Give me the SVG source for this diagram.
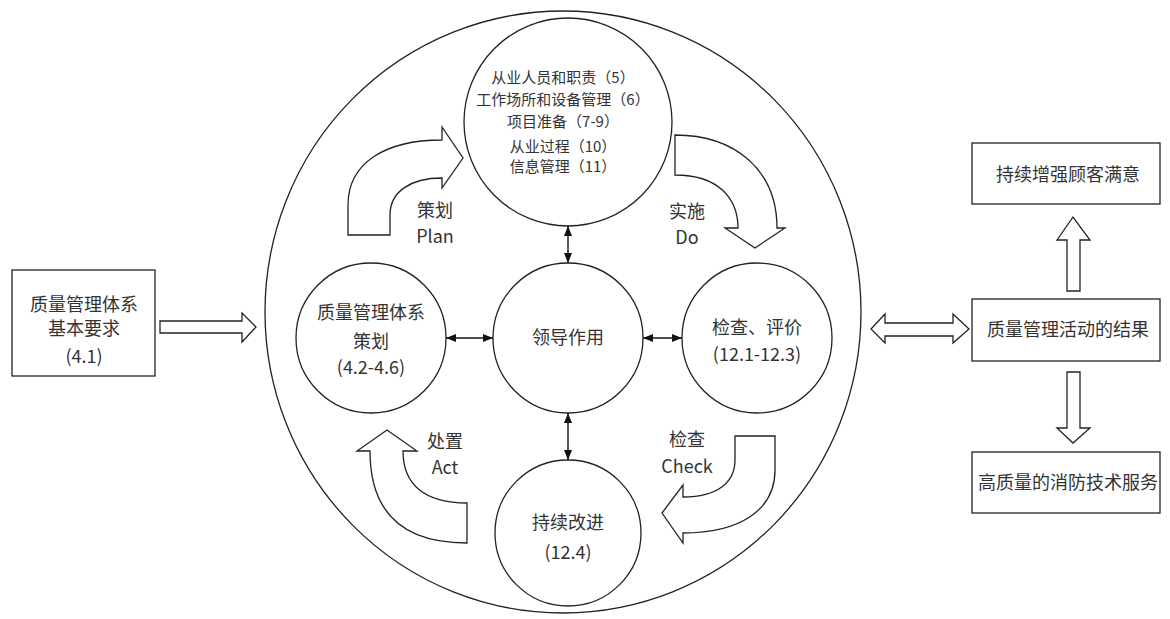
<svg xmlns="http://www.w3.org/2000/svg" width="1170" height="619" viewBox="0 0 1170 619">
<style>
.s{fill:#fff;stroke:#222;stroke-width:1.3}
.b{fill:none;stroke:#222;stroke-width:1.3}
.t{font-family:"Noto Sans CJK SC","Noto Sans",sans-serif;font-size:18px;fill:#333;text-anchor:middle}
.sm{font-size:15px}
.c{stroke:#111;stroke-width:1.4;fill:none}
</style>
<defs>
<marker id="ah" viewBox="0 0 10 8" markerWidth="10" markerHeight="8" refX="10" refY="4" orient="auto-start-reverse" markerUnits="userSpaceOnUse">
<path d="M0,0 L10,4 L0,8 Z" fill="#111"/>
</marker>
</defs>
<rect width="1170" height="619" fill="#fff"/>
<g id="outer"><ellipse class="b" cx="563" cy="312" rx="298" ry="301"/></g>
<g id="basic">
<rect class="s" x="12" y="270" width="143" height="106"/>
<text class="t" x="84" y="311">质量管理体系</text>
<text class="t" x="84" y="335">基本要求</text>
<text class="t" x="84" y="363">(4.1)</text>
</g>
<g id="ops">
<circle class="s" cx="568" cy="122" r="104"/>
<text class="t sm" x="563" y="83">从业人员和职责（5）</text>
<text class="t sm" x="563" y="105">工作场所和设备管理（6）</text>
<text class="t sm" x="563" y="127">项目准备（7-9）</text>
<text class="t sm" x="563" y="152">从业过程（10）</text>
<text class="t sm" x="563" y="172">信息管理（11）</text>
</g>
<g id="plan">
<circle class="s" cx="371" cy="338" r="75"/>
<text class="t" x="371" y="319">质量管理体系</text>
<text class="t" x="371" y="348">策划</text>
<text class="t" x="371" y="374">(4.2-4.6)</text>
</g>
<g id="lead">
<circle class="s" cx="568" cy="338" r="75"/>
<text class="t" x="568" y="344">领导作用</text>
</g>
<g id="check">
<circle class="s" cx="757" cy="338" r="75"/>
<text class="t" x="757" y="334">检查、评价</text>
<text class="t" x="757" y="361">(12.1-12.3)</text>
</g>
<g id="improve">
<circle class="s" cx="568" cy="533" r="73"/>
<text class="t" x="568" y="529">持续改进</text>
<text class="t" x="568" y="559">(12.4)</text>
</g>
<g id="result">
<rect class="s" x="972" y="299" width="188" height="62"/>
<text class="t" x="1068" y="336">质量管理活动的结果</text>
</g>
<g id="satisfaction">
<rect class="s" x="972" y="143" width="188" height="61"/>
<text class="t" x="1068" y="181">持续增强顾客满意</text>
</g>
<g id="service">
<rect class="s" x="972" y="452" width="188" height="61"/>
<text class="t" x="1068" y="489">高质量的消防技术服务</text>
</g>
<g id="labels">
<text class="t" x="435" y="217">策划</text>
<text class="t" x="435" y="243">Plan</text>
<text class="t" x="687" y="218">实施</text>
<text class="t" x="687" y="244">Do</text>
<text class="t" x="687" y="446">检查</text>
<text class="t" x="687" y="473">Check</text>
<text class="t" x="445" y="448">处置</text>
<text class="t" x="445" y="474">Act</text>
</g>
<g id="connectors">
<line class="c" x1="446" y1="338" x2="493" y2="338" marker-start="url(#ah)" marker-end="url(#ah)"/>
<line class="c" x1="643" y1="338" x2="682" y2="338" marker-start="url(#ah)" marker-end="url(#ah)"/>
<line class="c" x1="568" y1="226" x2="568" y2="263" marker-start="url(#ah)" marker-end="url(#ah)"/>
<line class="c" x1="568" y1="413" x2="568" y2="460" marker-start="url(#ah)" marker-end="url(#ah)"/>
<path class="s" d="M160,321 L242,321 L242,313 L256,327 L242,342 L242,333 L160,333 Z"/>
<path class="s" d="M871,329 L885,314 L885,323 L953,323 L953,314 L969,329 L953,343 L953,336 L885,336 L885,343 Z"/>
<path class="s" d="M1067,291 L1067,240 L1057,240 L1073,217 L1090,240 L1080,240 L1080,291 Z"/>
<path class="s" d="M1067,372 L1080,372 L1080,428 L1090,428 L1073,443 L1057,428 L1067,428 Z"/>
<path class="s" d="M348,235 L348,205 C348,163 385,140 442,140 L442,127 L463,158 L442,188 L442,178 C410,178 390,192 390,215 L390,235 Z"/>
<path class="s" d="M675,135 C735,135 777,170 777,228 L785,228 L755,248 L725,228 L738,228 C738,198 718,175 675,175 Z"/>
<path class="s" d="M735,436 L775,436 L775,470 C775,510 740,533 683,533 L683,543 L662,513 L683,485 L683,497 C718,497 735,482 735,460 Z"/>
<path class="s" d="M370,451 C370,510 400,543 467,543 L467,503 C425,503 403,485 403,451 L417,451 L387,430 L357,451 Z"/>
</g>
</svg>
